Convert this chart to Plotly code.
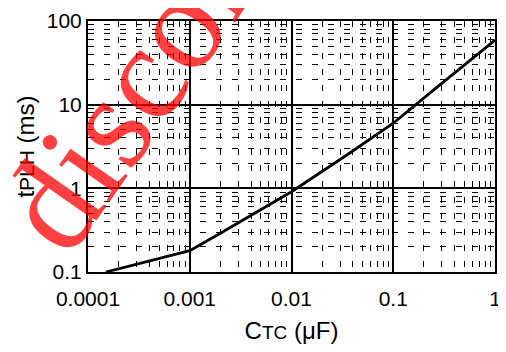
import plotly.graph_objects as go

# Data
c_tc_uF = [0.00015, 0.0004, 0.001, 0.002, 0.0045, 0.01, 0.035, 0.1, 0.25, 1.0]
t_plh_ms = [0.1, 0.135, 0.18, 0.29, 0.52, 0.91, 2.5, 6.0, 15.0, 59.0]

x_tick_vals = [0.0001, 0.001, 0.01, 0.1, 1]
x_tick_labels = ["0.0001", "0.001", "0.01", "0.1", "1"]
y_tick_vals = [0.1, 1, 10, 100]
y_tick_labels = ["0.1", "1", "10", "100"]

x_minor = [m * d for d in [0.0001, 0.001, 0.01, 0.1] for m in range(2, 10)]
y_minor = [m * d for d in [0.1, 1, 10] for m in range(2, 10)]

FONT = "Liberation Sans, Arial, sans-serif"

fig = go.Figure()
fig.add_trace(go.Scatter(x=c_tc_uF, y=t_plh_ms, mode="lines",
                         line=dict(color="black", width=2.8),
                         showlegend=False, hoverinfo="skip"))

axis_common = dict(
    type="log",
    showline=True, mirror=True, linecolor="black", linewidth=2,
    showgrid=True, gridcolor="black", gridwidth=1.5,
    ticks="", zeroline=False,
    tickfont=dict(family=FONT, size=21, color="black"),
    ticklabeloverflow="allow",
)

fig.update_xaxes(
    **axis_common,
    range=[-4, 0],
    tickmode="array", tickvals=x_tick_vals, ticktext=x_tick_labels,
    ticklabelstandoff=7,
    minor=dict(tickmode="array", tickvals=x_minor, showgrid=True,
               gridcolor="black", gridwidth=1.3, griddash="6px,10px", ticks=""),
    title=dict(text="C<span style='font-size:19px'>TC</span> (μF)",
               font=dict(family=FONT, size=24, color="black"), standoff=19),
    automargin=False,
)
fig.update_yaxes(
    **axis_common,
    range=[-1, 2],
    tickmode="array", tickvals=y_tick_vals, ticktext=y_tick_labels,
    minor=dict(tickmode="array", tickvals=y_minor, showgrid=True,
               gridcolor="black", gridwidth=1.3, griddash="6px,10px", ticks=""),
    title=dict(text="t<span style='font-size:21px'>PLH</span> (ms)",
               font=dict(family=FONT, size=24, color="black"), standoff=5),
    automargin=False,
)

fig.add_annotation(
    text="discontinued", xref="paper", yref="paper",
    x=0.350, y=1.285, xanchor="center", yanchor="middle",
    showarrow=False, textangle=-55,
    font=dict(family="Liberation Serif, Times New Roman, serif", size=136,
              color="rgba(255,0,0,0.75)"),
)

fig.update_layout(
    width=490, height=336,
    margin=dict(l=80, r=3, t=13, b=72),
    paper_bgcolor="white", plot_bgcolor="white",
)

fig.write_html("out.html")
